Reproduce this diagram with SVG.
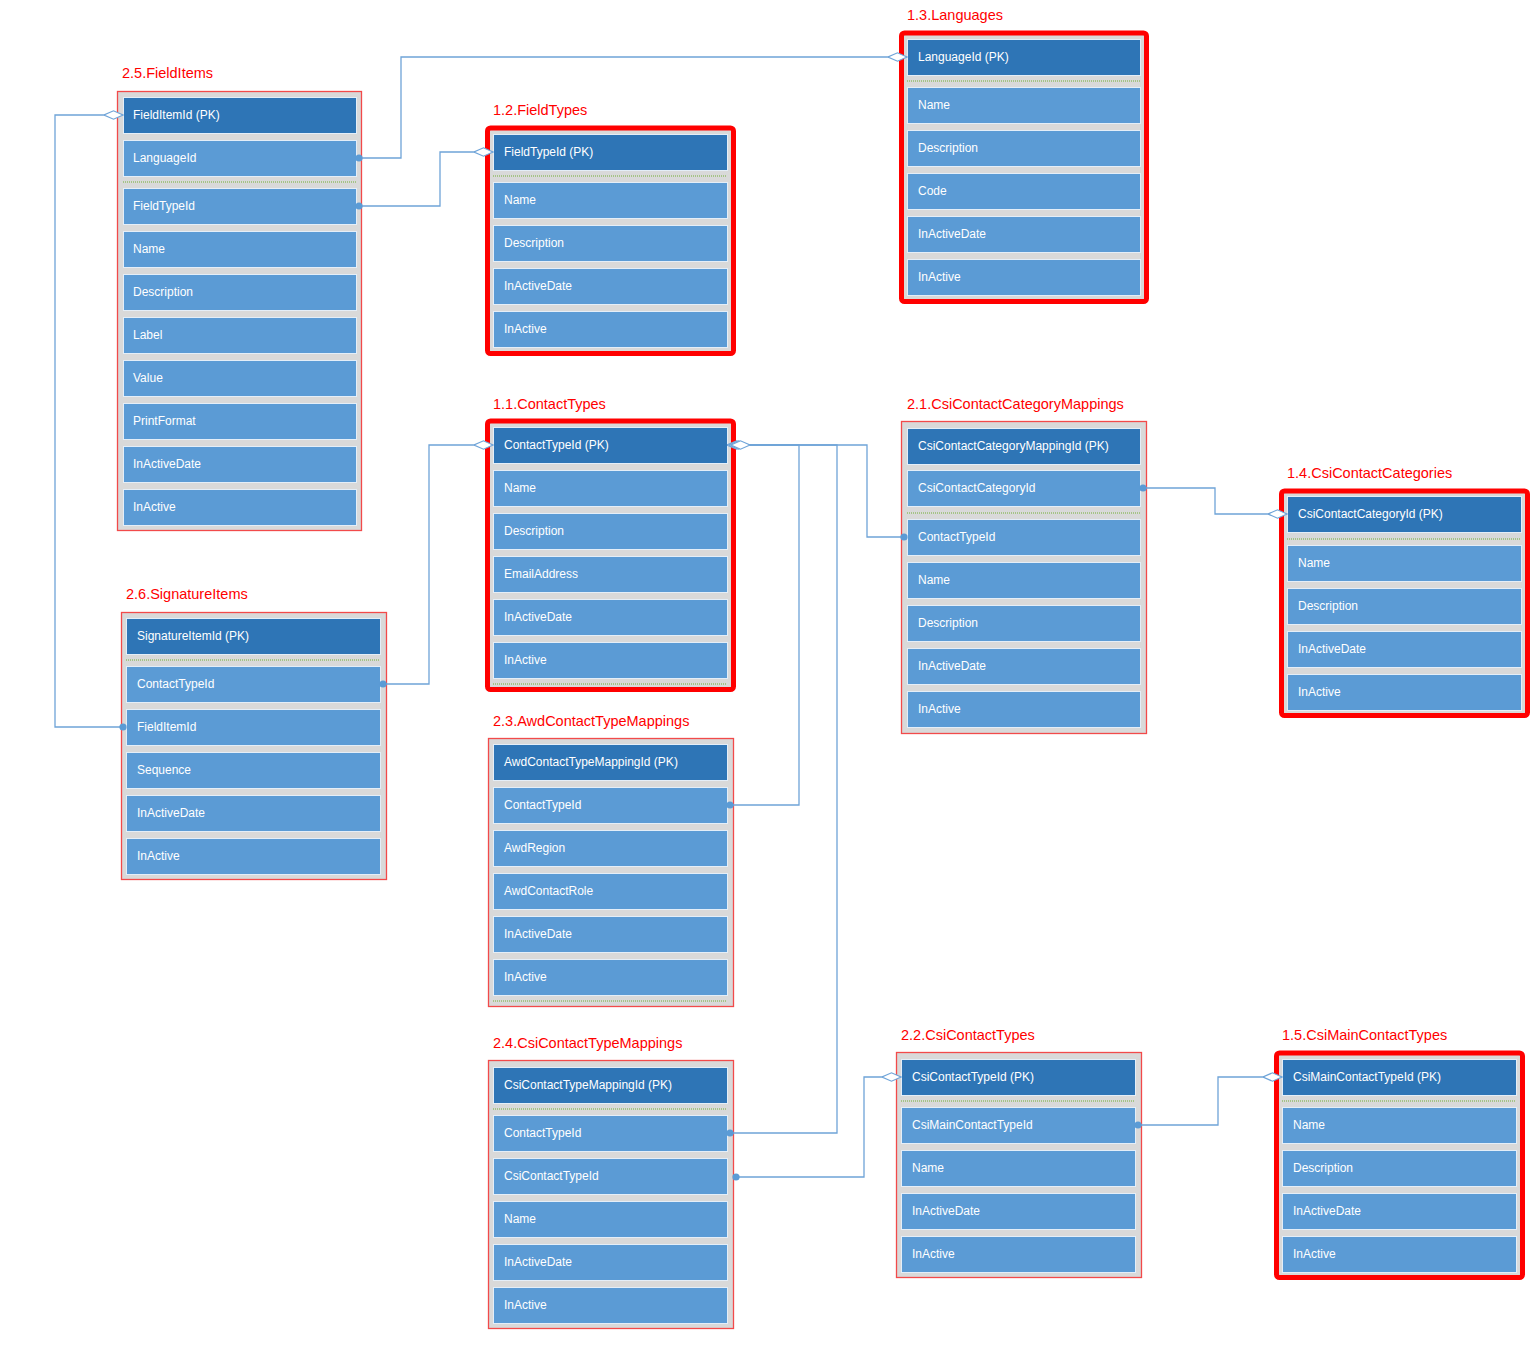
<svg xmlns="http://www.w3.org/2000/svg" width="1531" height="1369" viewBox="0 0 1531 1369">
<style>
.bg{fill:#ffffff}
.thin{fill:#d9d9d9;stroke:#f24a4a;stroke-width:1.3}
.thick{fill:#d9d9d9;stroke:#ff0000;stroke-width:5}
.pk{fill:#2e75b6;stroke:#e4eef8;stroke-width:1}
.row{fill:#5b9bd5;stroke:#e4eef8;stroke-width:1}
.sep{stroke:#a5c487;stroke-width:2;stroke-dasharray:1 1}
.t{font-family:"Liberation Sans",Arial,sans-serif;font-size:12px;fill:#ffffff}
.title{font-family:"Liberation Sans",Arial,sans-serif;font-size:14.5px;fill:#ff0000}
.c{fill:none;stroke:#6fa4d8;stroke-width:1.3;marker-start:url(#dot);marker-end:url(#dia)}
</style>
<defs>
<marker id="dia" viewBox="0 0 20 10" refX="19.5" refY="5" markerWidth="20" markerHeight="10" markerUnits="userSpaceOnUse" orient="auto">
<path d="M0.5,5 L10,0.8 L19.5,5 L10,9.2 Z" fill="#ffffff" stroke="#6fa4d8" stroke-width="1.2"/>
</marker>
<marker id="dot" viewBox="0 0 8 8" refX="4" refY="4" markerWidth="8" markerHeight="8" markerUnits="userSpaceOnUse">
<circle cx="4" cy="4" r="3.6" fill="#5b9bd5"/>
</marker>
</defs>
<rect class="bg" x="0" y="0" width="1531" height="1369"/>

<g id="FieldItems">
<text class="title" x="122" y="78">2.5.FieldItems</text>
<rect class="thin" x="117.5" y="91.5" width="244" height="439"/>
<rect class="pk" x="123.5" y="97.5" width="233" height="36"/><text class="t" x="133" y="119">FieldItemId  (PK)</text>
<rect class="row" x="123.5" y="140.5" width="233" height="36"/><text class="t" x="133" y="162">LanguageId</text>
<line class="sep" x1="123" y1="182" x2="356" y2="182"/>
<rect class="row" x="123.5" y="188.5" width="233" height="36"/><text class="t" x="133" y="210">FieldTypeId</text>
<rect class="row" x="123.5" y="231.5" width="233" height="36"/><text class="t" x="133" y="253">Name</text>
<rect class="row" x="123.5" y="274.5" width="233" height="36"/><text class="t" x="133" y="296">Description</text>
<rect class="row" x="123.5" y="317.5" width="233" height="36"/><text class="t" x="133" y="339">Label</text>
<rect class="row" x="123.5" y="360.5" width="233" height="36"/><text class="t" x="133" y="382">Value</text>
<rect class="row" x="123.5" y="403.5" width="233" height="36"/><text class="t" x="133" y="425">PrintFormat</text>
<rect class="row" x="123.5" y="446.5" width="233" height="36"/><text class="t" x="133" y="468">InActiveDate</text>
<rect class="row" x="123.5" y="489.5" width="233" height="36"/><text class="t" x="133" y="511">InActive</text>
</g>

<g id="FieldTypes">
<text class="title" x="493" y="115">1.2.FieldTypes</text>
<rect class="thick" x="487.5" y="128" width="246" height="225.5" rx="3"/>
<rect class="pk" x="493.5" y="134.5" width="234" height="36"/><text class="t" x="504" y="156">FieldTypeId  (PK)</text>
<line class="sep" x1="493" y1="176" x2="727" y2="176"/>
<rect class="row" x="493.5" y="182.5" width="234" height="36"/><text class="t" x="504" y="204">Name</text>
<rect class="row" x="493.5" y="225.5" width="234" height="36"/><text class="t" x="504" y="247">Description</text>
<rect class="row" x="493.5" y="268.5" width="234" height="36"/><text class="t" x="504" y="290">InActiveDate</text>
<rect class="row" x="493.5" y="311.5" width="234" height="36"/><text class="t" x="504" y="333">InActive</text>
</g>

<g id="Languages">
<text class="title" x="907" y="20">1.3.Languages</text>
<rect class="thick" x="901.5" y="33" width="245" height="268.5" rx="3"/>
<rect class="pk" x="907.5" y="39.5" width="233" height="36"/><text class="t" x="918" y="61">LanguageId (PK)</text>
<line class="sep" x1="907" y1="81" x2="1140" y2="81"/>
<rect class="row" x="907.5" y="87.5" width="233" height="36"/><text class="t" x="918" y="109">Name</text>
<rect class="row" x="907.5" y="130.5" width="233" height="36"/><text class="t" x="918" y="152">Description</text>
<rect class="row" x="907.5" y="173.5" width="233" height="36"/><text class="t" x="918" y="195">Code</text>
<rect class="row" x="907.5" y="216.5" width="233" height="36"/><text class="t" x="918" y="238">InActiveDate</text>
<rect class="row" x="907.5" y="259.5" width="233" height="36"/><text class="t" x="918" y="281">InActive</text>
</g>

<g id="ContactTypes">
<text class="title" x="493" y="409">1.1.ContactTypes</text>
<rect class="thick" x="487.5" y="421" width="246" height="268.5" rx="3"/>
<rect class="pk" x="493.5" y="427.5" width="234" height="36"/><text class="t" x="504" y="449">ContactTypeId (PK)</text>
<rect class="row" x="493.5" y="470.5" width="234" height="36"/><text class="t" x="504" y="492">Name</text>
<rect class="row" x="493.5" y="513.5" width="234" height="36"/><text class="t" x="504" y="535">Description</text>
<rect class="row" x="493.5" y="556.5" width="234" height="36"/><text class="t" x="504" y="578">EmailAddress</text>
<rect class="row" x="493.5" y="599.5" width="234" height="36"/><text class="t" x="504" y="621">InActiveDate</text>
<rect class="row" x="493.5" y="642.5" width="234" height="36"/><text class="t" x="504" y="664">InActive</text>
<line class="sep" x1="493" y1="684" x2="727" y2="684"/>
</g>

<g id="CsiContactCategoryMappings">
<text class="title" x="907" y="409">2.1.CsiContactCategoryMappings</text>
<rect class="thin" x="901.5" y="421.5" width="245" height="312"/>
<rect class="pk" x="907.5" y="428.5" width="233" height="36"/><text class="t" x="918" y="450">CsiContactCategoryMappingId (PK)</text>
<rect class="row" x="907.5" y="470.5" width="233" height="36"/><text class="t" x="918" y="492">CsiContactCategoryId</text>
<line class="sep" x1="907" y1="513" x2="1140" y2="513"/>
<rect class="row" x="907.5" y="519.5" width="233" height="36"/><text class="t" x="918" y="541">ContactTypeId</text>
<rect class="row" x="907.5" y="562.5" width="233" height="36"/><text class="t" x="918" y="584">Name</text>
<rect class="row" x="907.5" y="605.5" width="233" height="36"/><text class="t" x="918" y="627">Description</text>
<rect class="row" x="907.5" y="648.5" width="233" height="36"/><text class="t" x="918" y="670">InActiveDate</text>
<rect class="row" x="907.5" y="691.5" width="233" height="36"/><text class="t" x="918" y="713">InActive</text>
</g>

<g id="CsiContactCategories">
<text class="title" x="1287" y="478">1.4.CsiContactCategories</text>
<rect class="thick" x="1281.5" y="491" width="246" height="224.5" rx="3"/>
<rect class="pk" x="1287.5" y="496.5" width="234" height="36"/><text class="t" x="1298" y="518">CsiContactCategoryId  (PK)</text>
<line class="sep" x1="1287" y1="539" x2="1521" y2="539"/>
<rect class="row" x="1287.5" y="545.5" width="234" height="36"/><text class="t" x="1298" y="567">Name</text>
<rect class="row" x="1287.5" y="588.5" width="234" height="36"/><text class="t" x="1298" y="610">Description</text>
<rect class="row" x="1287.5" y="631.5" width="234" height="36"/><text class="t" x="1298" y="653">InActiveDate</text>
<rect class="row" x="1287.5" y="674.5" width="234" height="36"/><text class="t" x="1298" y="696">InActive</text>
</g>

<g id="SignatureItems">
<text class="title" x="126" y="599">2.6.SignatureItems</text>
<rect class="thin" x="121.5" y="612.5" width="265" height="267"/>
<rect class="pk" x="126.5" y="618.5" width="254" height="36"/><text class="t" x="137" y="640">SignatureItemId (PK)</text>
<line class="sep" x1="126" y1="660" x2="380" y2="660"/>
<rect class="row" x="126.5" y="666.5" width="254" height="36"/><text class="t" x="137" y="688">ContactTypeId</text>
<rect class="row" x="126.5" y="709.5" width="254" height="36"/><text class="t" x="137" y="731">FieldItemId</text>
<rect class="row" x="126.5" y="752.5" width="254" height="36"/><text class="t" x="137" y="774">Sequence</text>
<rect class="row" x="126.5" y="795.5" width="254" height="36"/><text class="t" x="137" y="817">InActiveDate</text>
<rect class="row" x="126.5" y="838.5" width="254" height="36"/><text class="t" x="137" y="860">InActive</text>
</g>

<g id="AwdContactTypeMappings">
<text class="title" x="493" y="726">2.3.AwdContactTypeMappings</text>
<rect class="thin" x="488.5" y="738.5" width="245" height="268"/>
<rect class="pk" x="493.5" y="744.5" width="234" height="36"/><text class="t" x="504" y="766">AwdContactTypeMappingId (PK)</text>
<rect class="row" x="493.5" y="787.5" width="234" height="36"/><text class="t" x="504" y="809">ContactTypeId</text>
<rect class="row" x="493.5" y="830.5" width="234" height="36"/><text class="t" x="504" y="852">AwdRegion</text>
<rect class="row" x="493.5" y="873.5" width="234" height="36"/><text class="t" x="504" y="895">AwdContactRole</text>
<rect class="row" x="493.5" y="916.5" width="234" height="36"/><text class="t" x="504" y="938">InActiveDate</text>
<rect class="row" x="493.5" y="959.5" width="234" height="36"/><text class="t" x="504" y="981">InActive</text>
<line class="sep" x1="493" y1="1001" x2="727" y2="1001"/>
</g>

<g id="CsiContactTypeMappings">
<text class="title" x="493" y="1048">2.4.CsiContactTypeMappings</text>
<rect class="thin" x="488.5" y="1060.5" width="245" height="268"/>
<rect class="pk" x="493.5" y="1067.5" width="234" height="36"/><text class="t" x="504" y="1089">CsiContactTypeMappingId  (PK)</text>
<line class="sep" x1="493" y1="1109" x2="727" y2="1109"/>
<rect class="row" x="493.5" y="1115.5" width="234" height="36"/><text class="t" x="504" y="1137">ContactTypeId</text>
<rect class="row" x="493.5" y="1158.5" width="234" height="36"/><text class="t" x="504" y="1180">CsiContactTypeId</text>
<rect class="row" x="493.5" y="1201.5" width="234" height="36"/><text class="t" x="504" y="1223">Name</text>
<rect class="row" x="493.5" y="1244.5" width="234" height="36"/><text class="t" x="504" y="1266">InActiveDate</text>
<rect class="row" x="493.5" y="1287.5" width="234" height="36"/><text class="t" x="504" y="1309">InActive</text>
</g>

<g id="CsiContactTypes">
<text class="title" x="901" y="1040">2.2.CsiContactTypes</text>
<rect class="thin" x="896.5" y="1052.5" width="245" height="225"/>
<rect class="pk" x="901.5" y="1059.5" width="234" height="36"/><text class="t" x="912" y="1081">CsiContactTypeId (PK)</text>
<line class="sep" x1="901" y1="1101" x2="1135" y2="1101"/>
<rect class="row" x="901.5" y="1107.5" width="234" height="36"/><text class="t" x="912" y="1129">CsiMainContactTypeId</text>
<rect class="row" x="901.5" y="1150.5" width="234" height="36"/><text class="t" x="912" y="1172">Name</text>
<rect class="row" x="901.5" y="1193.5" width="234" height="36"/><text class="t" x="912" y="1215">InActiveDate</text>
<rect class="row" x="901.5" y="1236.5" width="234" height="36"/><text class="t" x="912" y="1258">InActive</text>
</g>

<g id="CsiMainContactTypes">
<text class="title" x="1282" y="1040">1.5.CsiMainContactTypes</text>
<rect class="thick" x="1276.5" y="1053" width="246" height="224.5" rx="3"/>
<rect class="pk" x="1282.5" y="1059.5" width="234" height="36"/><text class="t" x="1293" y="1081">CsiMainContactTypeId (PK)</text>
<line class="sep" x1="1282" y1="1101" x2="1516" y2="1101"/>
<rect class="row" x="1282.5" y="1107.5" width="234" height="36"/><text class="t" x="1293" y="1129">Name</text>
<rect class="row" x="1282.5" y="1150.5" width="234" height="36"/><text class="t" x="1293" y="1172">Description</text>
<rect class="row" x="1282.5" y="1193.5" width="234" height="36"/><text class="t" x="1293" y="1215">InActiveDate</text>
<rect class="row" x="1282.5" y="1236.5" width="234" height="36"/><text class="t" x="1293" y="1258">InActive</text>
</g>

<g id="connectors">
<path class="c" d="M359,158 H401 V57 H907"/>
<path class="c" d="M359,206 H440 V152 H493"/>
<path class="c" d="M123,727 H55 V115 H123"/>
<path class="c" d="M383,684 H429 V445 H493"/>
<path class="c" d="M730,805 H799 V445 H727"/>
<path class="c" d="M730,1133 H837 V445 H729"/>
<path class="c" d="M904,537 H867 V445 H731"/>
<path class="c" d="M1143,488 H1215 V514 H1287"/>
<path class="c" d="M736,1177 H864 V1077 H901"/>
<path class="c" d="M1138,1125 H1218 V1077 H1282"/>
</g>
</svg>
